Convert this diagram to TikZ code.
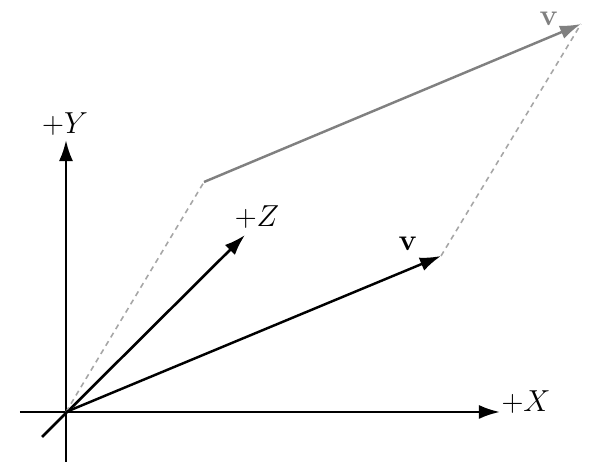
\documentclass[tikz,border=0pt]{standalone}
\usetikzlibrary{arrows.meta}
\begin{document}
\begin{tikzpicture}[
    axis/.style={line width=1.5pt,-{Latex[length=12pt,width=8pt]}},
    vec/.style={line width=1.4pt,-{Latex[length=12pt,width=8pt]}},
    guide/.style={gray!70,line width=0.9pt,dash pattern=on 3pt off 2.5pt},
    lbl/.style={font=\LARGE,inner sep=1pt}
]
    \useasboundingbox (-1.32,-1.24) rectangle (10.56,8.24);

    % Axis end points
    \coordinate (O) at (0,0);
    \coordinate (xs) at (-0.92,0);
    \coordinate (xe) at (8.68,0);
    \coordinate (ys) at (0,-1.0);
    \coordinate (ye) at (0,5.44);
    \coordinate (zs) at (-0.48,-0.5);
    \coordinate (ze) at (3.58,3.54);

    % Vector v and its shifted copy
    \coordinate (v) at (7.5,3.12);
    \coordinate (s) at (2.76,4.6);
    \coordinate (sv) at (10.3,7.76);

    % Draw the axes
    \draw[axis] (xs) -- (xe);
    \draw[axis] (ys) -- (ye);
    \draw[axis] (zs) -- (ze);
    \node[lbl] (xl) at (9.2,0.2) {$+X$};
    \node[lbl] (yl) at (-0.02,5.76) {$+Y$};
    \node[lbl] (zl) at (3.82,3.9) {$+Z$};

    % Dashed guides
    \draw[guide] (O) -- (s);
    \draw[guide] (v) -- (sv);

    % Draw the vectors
    \draw[vec] (O) -- (v);
    \draw[vec,gray] (s) -- (sv);
    \node[lbl] (vl) at (6.84,3.36) {$\mathbf{v}$};
    \node[lbl,gray] (svl) at (9.66,7.86) {$\mathbf{v}$};

\end{tikzpicture}
\end{document}
